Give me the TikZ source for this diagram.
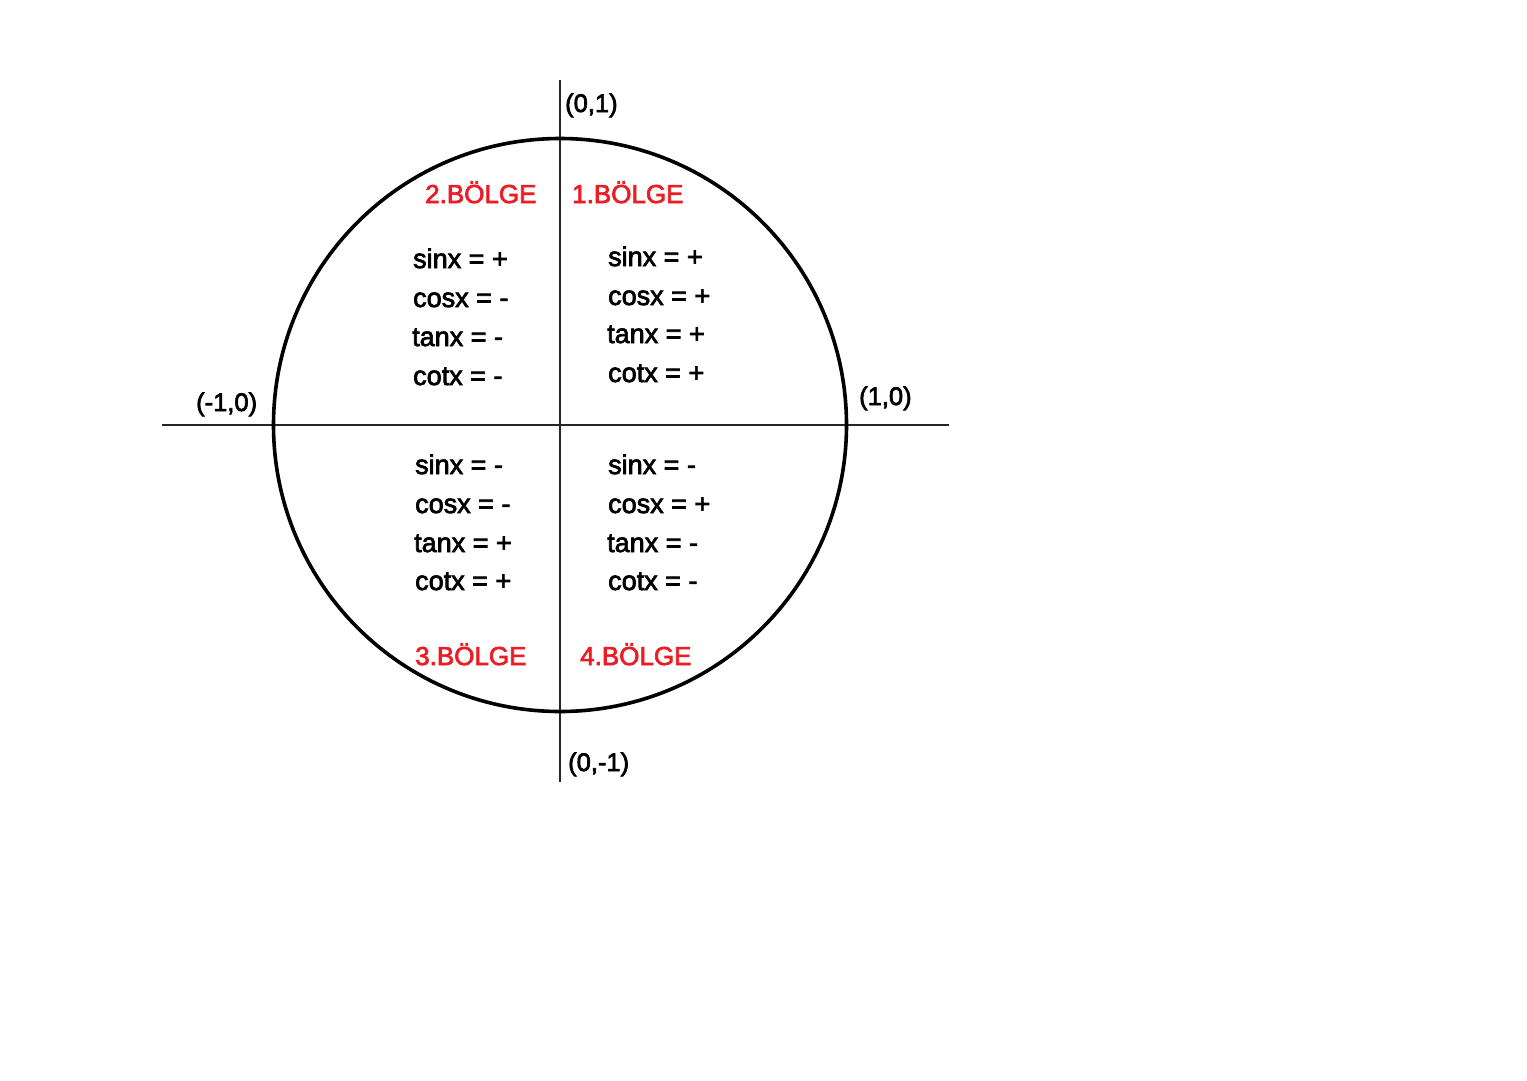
\documentclass[tikz,border=0pt]{standalone}
\usepackage{fontspec}
\setmainfont{Liberation Sans}
\newfontfamily\heavyfont{Liberation Sans}[FakeBold=2.6]
\definecolor{lblred}{RGB}{236,28,36}
\begin{document}
\begin{tikzpicture}[x=1pt,y=-1pt,
  txt/.style={anchor=base west,inner sep=0pt,font=\heavyfont\fontsize{27}{27}\selectfont},
  reg/.style={anchor=base west,inner sep=0pt,text=lblred,font=\heavyfont\fontsize{26}{26}\selectfont},
  crd/.style={anchor=base west,inner sep=0pt,font=\heavyfont\fontsize{25.5}{25.5}\selectfont},
  axis/.style={line width=1.8pt,draw=black!85},
  ring/.style={line width=3.6pt,draw=black}]
\useasboundingbox (0,0) rectangle (1527,1080);
\fill[white] (0,0) rectangle (1527,1080);
\coordinate (O) at (560,425);
\coordinate (L) at (162,425);
\coordinate (R) at (949,425);
\coordinate (T) at (560,80);
\coordinate (B) at (560,782);
\draw[axis] (L) -- (R);
\draw[axis] (T) -- (B);
\draw[ring] (O) circle[radius=286.5];
% coordinate labels
\node[crd] (p01) at (565,112) {(0,1)};
\node[crd] (pm10) at (196,411) {(-1,0)};
\node[crd] (p10) at (859,405) {(1,0)};
\node[crd] (p0m1) at (568,771) {(0,-1)};
% region titles
\node[reg] (r2) at (425,203) {2.BÖLGE};
\node[reg] (r1) at (572,203) {1.BÖLGE};
\node[reg] (r3) at (415,665) {3.BÖLGE};
\node[reg] (r4) at (580,665) {4.BÖLGE};
% quadrant 2
\node[txt] (q2a) at (413,268) {sinx = +};
\node[txt] (q2b) at (413,307) {cosx = -};
\node[txt] (q2c) at (412,346) {tanx = -};
\node[txt] (q2d) at (413,385) {cotx = -};
% quadrant 1
\node[txt] (q1a) at (608,266) {sinx = +};
\node[txt] (q1b) at (608,305) {cosx = +};
\node[txt] (q1c) at (607,343) {tanx = +};
\node[txt] (q1d) at (608,382) {cotx = +};
% quadrant 3
\node[txt] (q3a) at (415,474) {sinx = -};
\node[txt] (q3b) at (415,513) {cosx = -};
\node[txt] (q3c) at (414,552) {tanx = +};
\node[txt] (q3d) at (415,590) {cotx = +};
% quadrant 4
\node[txt] (q4a) at (608,474) {sinx = -};
\node[txt] (q4b) at (608,513) {cosx = +};
\node[txt] (q4c) at (607,552) {tanx = -};
\node[txt] (q4d) at (608,590) {cotx = -};
\end{tikzpicture}
\end{document}
